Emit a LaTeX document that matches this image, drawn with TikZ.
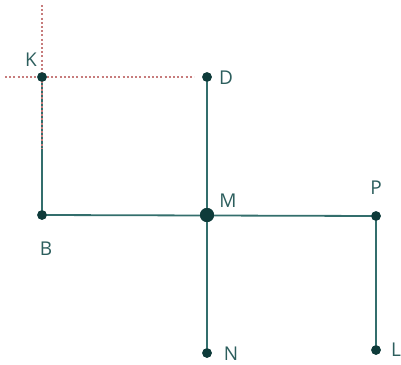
\documentclass[tikz,border=0pt]{standalone}
\usepackage{fontspec}
\setmainfont{Open Sans}
\definecolor{ln}{HTML}{336E6C}
\definecolor{dt}{HTML}{0E3B3A}
\definecolor{lb}{HTML}{2C5E5D}
\definecolor{rd}{HTML}{C77C7C}
\begin{document}
\begin{tikzpicture}[x=1pt,y=-1pt,
  seg/.style={draw=ln,line width=1.8pt},
  pt/.style={circle,fill=dt,inner sep=0pt,minimum size=9.5pt},
  bigpt/.style={circle,fill=dt,inner sep=0pt,minimum size=14pt},
  lab/.style={text=lb,font=\fontsize{19}{19}\selectfont,inner sep=0pt},
  guide/.style={draw=rd,line width=2.2pt,dash pattern=on 2pt off 2.2pt}]
\useasboundingbox (0,0) rectangle (401,364);
\coordinate (Kt) at (42,5);
\coordinate (Kl) at (5,77);
\coordinate (Kr) at (194,77);
\coordinate (Kb) at (42,148);
\node[pt] (K) at (42,77) {};
\node[pt] (D) at (207,77) {};
\node[pt] (B) at (42,215) {};
\node[bigpt] (M) at (207,215) {};
\node[pt] (P) at (376,216) {};
\node[pt] (N) at (207,353) {};
\node[pt] (L) at (376,350) {};
\draw[seg] (K.center) -- (B.center) -- (P.center) -- (L.center);
\draw[seg] (D.center) -- (N.center);
\draw[guide] (Kt) -- (Kb);
\draw[guide] (Kl) -- (Kr);
\node[pt] at (K) {};
\node[pt] at (D) {};
\node[pt] at (B) {};
\node[bigpt] at (M) {};
\node[pt] at (P) {};
\node[pt] at (N) {};
\node[pt] at (L) {};
\node[lab] (lK) at (31,60) {K};
\node[lab] (lD) at (226,78) {D};
\node[lab] (lM) at (228,201) {M};
\node[lab] (lP) at (376,188) {P};
\node[lab] (lB) at (46,249) {B};
\node[lab] (lN) at (231,354) {N};
\node[lab] (lL) at (396,350) {L};
\end{tikzpicture}
\end{document}
